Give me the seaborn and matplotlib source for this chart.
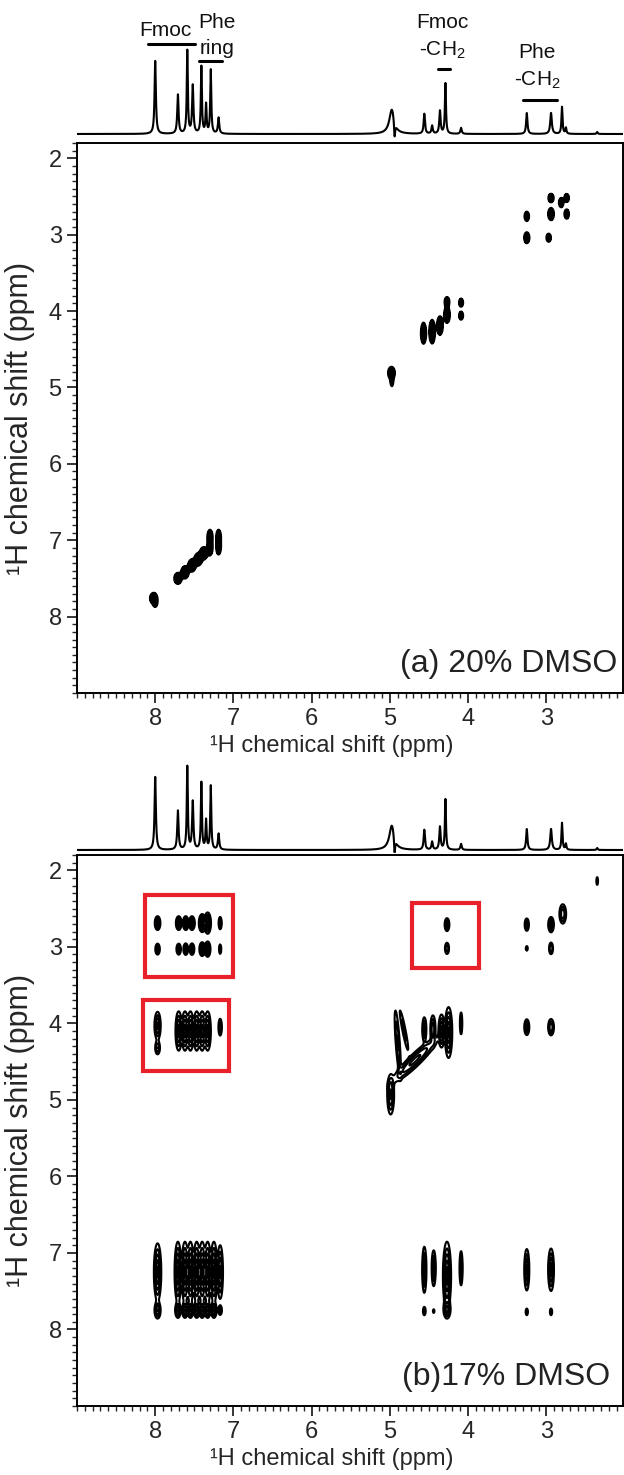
import numpy as np
import pandas as pd
import matplotlib
matplotlib.use("Agg")
import matplotlib.pyplot as plt
import seaborn as sns
from matplotlib.patches import Rectangle
from matplotlib.ticker import FixedLocator, MultipleLocator

# ---- 1D proton spectrum (same trace above both panels) ----
peak_ppm = [8.00, 7.71, 7.59, 7.52, 7.41, 7.35, 7.29, 7.19,
            4.975, 4.94, 4.56, 4.46, 4.36, 4.29, 4.09,
            3.25, 2.94, 2.80, 2.75, 2.35]
peak_height = [73, 39, 83, 48, 67, 29, 64, 16,
               25, -16, 20, 8, 23, 51, 6,
               21, 21, 27, 6, 2]
peak_hw = [0.010, 0.010, 0.008, 0.010, 0.008, 0.008, 0.008, 0.010,
           0.038, 0.008, 0.010, 0.010, 0.010, 0.008, 0.010,
           0.010, 0.012, 0.008, 0.008, 0.008]

# ---- panel (a): 20% DMSO, diagonal peaks (x ppm, y ppm, sx, sy, amp) ----
a_x = [8.02, 8.00, 7.71, 7.62, 7.53, 7.45, 7.38, 7.30, 7.30, 7.19, 7.19,
       4.98, 4.975, 4.57, 4.46, 4.36, 4.27, 4.27, 4.09, 4.09,
       3.25, 3.25, 2.94, 2.94, 2.97, 2.81, 2.74, 2.74]
a_y = [7.76, 7.82, 7.50, 7.42, 7.33, 7.25, 7.17, 7.10, 6.96, 6.96, 7.09,
       4.81, 4.91, 4.29, 4.27, 4.19, 4.05, 3.88, 3.89, 4.06,
       2.76, 3.04, 2.52, 2.73, 3.04, 2.58, 2.52, 2.73]
a_sx = [0.030, 0.018, 0.030, 0.030, 0.030, 0.030, 0.030, 0.022, 0.022, 0.020, 0.020,
        0.028, 0.014, 0.022, 0.024, 0.024, 0.024, 0.020, 0.018, 0.018,
        0.020, 0.022, 0.022, 0.024, 0.020, 0.020, 0.020, 0.020]
a_sy = [0.045, 0.035, 0.045, 0.050, 0.050, 0.050, 0.050, 0.06, 0.06, 0.06, 0.06,
        0.050, 0.050, 0.085, 0.095, 0.075, 0.065, 0.040, 0.035, 0.035,
        0.040, 0.045, 0.035, 0.050, 0.035, 0.040, 0.035, 0.040]
a_amp = [1.0, 0.8, 1.0, 1.0, 1.0, 1.0, 1.0, 1.0, 1.0, 1.0, 1.0,
         1.0, 0.8, 1.0, 1.0, 1.0, 1.0, 1.0, 0.9, 0.9,
         0.9, 1.0, 1.0, 1.0, 0.9, 0.9, 0.9, 0.9]

# ---- panel (b): 17% DMSO, cross peaks ----
b_x = [7.97, 7.70, 7.61, 7.53, 7.40, 7.33, 7.17,
       7.97, 7.70, 7.61, 7.53, 7.40, 7.33, 7.17,
       7.97, 7.97, 7.70, 7.62, 7.55, 7.47, 7.40, 7.33, 7.17,
       4.27, 4.27, 3.25, 3.25, 2.94, 2.94, 2.79, 2.35,
       4.56, 4.45, 4.34, 4.25, 4.09, 3.25, 2.94, 4.99,
       7.97, 7.71, 7.62, 7.55, 7.47, 7.40, 7.33, 7.25, 7.17,
       7.97, 7.71, 7.62, 7.55, 7.47, 7.40, 7.33, 7.25, 7.17,
       4.56, 4.56, 4.44, 4.44, 4.27, 4.27, 4.09, 3.25, 3.25, 2.94, 2.94]
b_y = [2.69, 2.69, 2.69, 2.69, 2.69, 2.69, 2.69,
       3.03, 3.03, 3.03, 3.03, 3.03, 3.03, 3.03,
       4.03, 4.32, 4.10, 4.10, 4.10, 4.10, 4.10, 4.10, 4.05,
       2.71, 3.02, 2.71, 3.02, 2.71, 3.02, 2.57, 2.14,
       4.08, 4.08, 4.10, 4.12, 4.00, 4.05, 4.05, 4.93,
       7.25, 7.25, 7.25, 7.25, 7.25, 7.25, 7.25, 7.25, 7.25,
       7.75, 7.75, 7.75, 7.75, 7.75, 7.75, 7.75, 7.75, 7.75,
       7.22, 7.76, 7.20, 7.76, 7.30, 7.74, 7.20, 7.22, 7.77, 7.22, 7.77]
b_sx = [0.018, 0.018, 0.018, 0.018, 0.020, 0.020, 0.011,
        0.016, 0.016, 0.016, 0.016, 0.018, 0.018, 0.009,
        0.020, 0.018, 0.020, 0.020, 0.020, 0.020, 0.020, 0.020, 0.013,
        0.016, 0.016, 0.015, 0.009, 0.018, 0.015, 0.022, 0.007,
        0.014, 0.017, 0.019, 0.022, 0.009, 0.017, 0.019, 0.022,
        0.022, 0.020, 0.020, 0.020, 0.020, 0.020, 0.020, 0.020, 0.018,
        0.020, 0.018, 0.018, 0.018, 0.018, 0.018, 0.018, 0.018, 0.013,
        0.014, 0.011, 0.014, 0.007, 0.024, 0.022, 0.011, 0.016, 0.009, 0.018, 0.009]
b_sy = [0.045, 0.045, 0.045, 0.045, 0.055, 0.065, 0.045,
        0.040, 0.040, 0.040, 0.040, 0.045, 0.050, 0.040,
        0.090, 0.050, 0.125, 0.125, 0.125, 0.125, 0.125, 0.125, 0.065,
        0.045, 0.045, 0.045, 0.022, 0.050, 0.045, 0.065, 0.035,
        0.085, 0.095, 0.105, 0.155, 0.085, 0.055, 0.055, 0.130,
        0.175, 0.185, 0.185, 0.185, 0.185, 0.185, 0.185, 0.185, 0.175,
        0.055, 0.050, 0.050, 0.050, 0.050, 0.050, 0.050, 0.050, 0.035,
        0.155, 0.035, 0.125, 0.018, 0.205, 0.055, 0.125, 0.135, 0.028, 0.135, 0.028]
b_amp = [0.9, 0.9, 0.9, 0.9, 1.2, 1.2, 0.6,
         0.6, 0.6, 0.7, 0.7, 0.9, 0.9, 0.4,
         0.9, 0.5, 1.0, 1.0, 1.0, 1.0, 1.0, 1.0, 0.5,
         0.7, 0.45, 0.6, 0.3, 0.9, 0.5, 0.8, 0.35,
         0.7, 0.8, 1.0, 1.2, 0.5, 0.7, 0.8, 0.9,
         1.2, 1.2, 1.2, 1.2, 1.2, 1.2, 1.2, 1.2, 0.9,
         0.8, 0.8, 0.8, 0.8, 0.8, 0.8, 0.8, 0.8, 0.5,
         0.8, 0.4, 0.7, 0.3, 1.3, 0.9, 0.6, 0.9, 0.4, 1.0, 0.4]

# elongated streak near the water peak in (b): centre, spread along / across, angle (deg), amp
w_x = [4.90, 4.82, 4.68]
w_y = [4.25, 4.09, 4.48]
w_along = [0.24, 0.17, 0.20]
w_across = [0.015, 0.013, 0.038]
w_angle = [94, 101, 45]
w_amp = [0.55, 0.4, 0.9]

# red boxes in (b): (x_left_ppm, x_right_ppm, y_top_ppm, y_bottom_ppm)
box_x0 = [8.13, 8.16, 4.72]
box_x1 = [7.01, 7.06, 3.86]
box_y0 = [2.32, 3.69, 2.43]
box_y1 = [3.39, 4.62, 3.28]

sns.set_style("ticks")
plt.rcParams['font.family'] = ['Liberation Sans', 'DejaVu Sans']
plt.rcParams['mathtext.fontset'] = 'custom'
plt.rcParams['mathtext.rm'] = 'Liberation Sans'
plt.rcParams['mathtext.it'] = 'Liberation Sans:italic'

W, H = 624, 1475
fig = plt.figure(figsize=(W / 100, H / 100), dpi=100)


def box(l, t, r, b):
    return [l / W, 1 - b / H, (r - l) / W, (b - t) / H]


ax_a = fig.add_axes(box(77, 143, 623, 693))
ax_b = fig.add_axes(box(77, 855, 623, 1406))
sp_a = fig.add_axes(box(77, 4, 623, 138))
sp_b = fig.add_axes(box(77, 755, 623, 853))

XL = (9.0, 2.02)
YL = (9.0, 1.8)

# 1D trace
xs = np.linspace(XL[0], XL[1], 4000)
inten = np.zeros_like(xs)
for p, h, w in zip(peak_ppm, peak_height, peak_hw):
    inten += h / (1 + ((xs - p) / w) ** 2)
spec = pd.DataFrame({'ppm': xs, 'I': inten})

for sp, ylim in [(sp_a, (-4, 130)), (sp_b, (-3, 95))]:
    sns.lineplot(data=spec, x='ppm', y='I', ax=sp, color='black', lw=1.5, sort=False)
    sp.set_xlim(*XL)
    sp.set_ylim(*ylim)
    sp.axis('off')

lab = dict(fontsize=15, ha='center', va='center', color='#111111')
sp_a.text(7.87, 103, 'Fmoc', **lab)
sp_a.plot([8.09, 7.49], [90, 90], color='black', lw=2.2)
sp_a.text(7.21, 111, 'Phe', **lab)
sp_a.text(7.21, 86, 'ring', **lab)
sp_a.plot([7.44, 7.15], [73, 73], color='black', lw=2.2)
sp_a.text(4.33, 111, 'Fmoc', **lab)
sp_a.text(4.33, 84, '-CH$_2$', **lab)
sp_a.plot([4.38, 4.23], [65, 65], color='black', lw=2.2)
sp_a.text(3.12, 81, 'Phe', **lab)
sp_a.text(3.12, 54, '-CH$_2$', **lab)
sp_a.plot([3.30, 2.87], [34, 34], color='black', lw=2.2)

# 2D grids
gx = np.arange(2.0, 9.0, 0.006)
gy = np.arange(1.8, 9.0, 0.006)
GX, GY = np.meshgrid(gx, gy)


def gauss_sum(xc, yc, sx, sy, amp):
    Z = np.zeros_like(GX)
    for x0, y0, s1, s2, a in zip(xc, yc, sx, sy, amp):
        ix = np.abs(gx - x0) < 6 * s1
        iy = np.abs(gy - y0) < 6 * s2
        sub = np.ix_(iy, ix)
        Z[sub] += a * np.exp(-((GX[sub] - x0) ** 2 / (2 * s1 ** 2) + (GY[sub] - y0) ** 2 / (2 * s2 ** 2)))
    return Z


Za = gauss_sum(a_x, a_y, a_sx, a_sy, a_amp)
ax_a.contourf(GX, GY, Za, levels=[0.25, 100], colors='black')
ax_a.contour(GX, GY, Za, levels=[0.25], colors='black', linewidths=1.2)

Zb = gauss_sum(b_x, b_y, b_sx, b_sy, b_amp)
for x0, y0, sl, sc, ang, a in zip(w_x, w_y, w_along, w_across, w_angle, w_amp):
    t = np.deg2rad(ang)
    u = GX - x0
    v = GY - y0
    d1 = u * np.cos(t) + v * np.sin(t)
    d2 = -u * np.sin(t) + v * np.cos(t)
    Zb += a * np.exp(-(d1 ** 2 / (2 * sl ** 2) + d2 ** 2 / (2 * sc ** 2)))
ax_b.contour(GX, GY, Zb, levels=[0.12, 0.28, 0.5, 0.8, 1.1], colors='black', linewidths=1.5)

for x0, x1, y0, y1 in zip(box_x0, box_x1, box_y0, box_y1):
    ax_b.add_patch(Rectangle((x1, y0), x0 - x1, y1 - y0, fill=False,
                             edgecolor='#e8202a', lw=3.0, zorder=5))

for ax, txt, xr in [(ax_a, '(a) 20% DMSO', 0.989), (ax_b, '(b)17% DMSO', 0.976)]:
    ax.set_xlim(*XL)
    ax.set_ylim(*YL)
    ax.xaxis.set_major_locator(FixedLocator([8, 7, 6, 5, 4, 3]))
    ax.yaxis.set_major_locator(FixedLocator([2, 3, 4, 5, 6, 7, 8]))
    ax.xaxis.set_minor_locator(MultipleLocator(0.1))
    ax.yaxis.set_minor_locator(MultipleLocator(0.1))
    ax.tick_params(which='major', direction='out', length=7, width=1.3,
                   labelsize=17, top=False, right=False, pad=4)
    ax.tick_params(which='minor', direction='out', length=3.5, width=1.0,
                   top=False, right=False)
    for s in ax.spines.values():
        s.set_linewidth(1.4)
        s.set_color('black')
    ax.set_xlabel('¹H chemical shift (ppm)', fontsize=17, labelpad=2)
    ax.xaxis.set_label_coords(0.467, -0.076)
    ax.set_ylabel('¹H chemical shift (ppm)', fontsize=22)
    ax.yaxis.set_label_coords(-0.077, 0.5)
    ax.text(xr, 0.038, txt, transform=ax.transAxes, ha='right', va='baseline',
            fontsize=23, color='#222222')

fig.savefig('out.png', dpi=100)
